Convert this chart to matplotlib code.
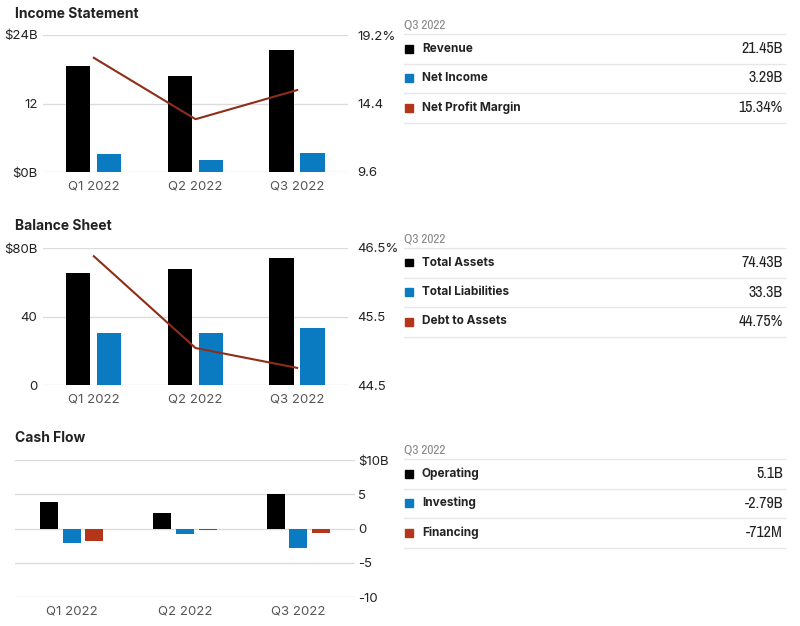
import matplotlib.pyplot as plt
from matplotlib.lines import Line2D
from matplotlib.patches import Rectangle
from matplotlib import font_manager
import numpy as np

## ----- DATA ------ ##

quarters = ["Q1 2022", "Q2 2022", "Q3 2022"]

revenue = [18.55, 16.8, 21.45]
net_income = [3.15, 2.1, 3.29]
net_margin = [17.6, 13.3, 15.34]

total_assets = [65.4, 67.7, 74.43]
total_liabilities = [30.4, 30.4, 33.3]
debt_to_assets = [46.38, 45.04, 44.75]

operating = [3.9, 2.3, 5.1]
investing = [-2.1, -0.8, -2.79]
financing = [-1.8, -0.25, -0.712]

table_period = "Q3 2022"
income_rows = [("Revenue", "21.45B"), ("Net Income", "3.29B"), ("Net Profit Margin", "15.34%")]
balance_rows = [("Total Assets", "74.43B"), ("Total Liabilities", "33.3B"), ("Debt to Assets", "44.75%")]
cash_rows = [("Operating", "5.1B"), ("Investing", "-2.79B"), ("Financing", "-712M")]

## ----- STYLE ------ ##

W, H = 800, 626
BLACK = "#000000"
BLUE = "#0a7bc1"
RED = "#b3361b"
LINE = "#8e2d18"
GRID = "#dcdcdc"
TXT = "#222222"
XTXT = "#555555"
plt.rcParams['font.family'] = ['Inter', 'DejaVu Sans']

# look for an upright, regular narrow face for the table values
NARROW = None
for f in font_manager.fontManager.ttflist:
    if ('Narrow' in f.name or 'Condensed' in f.name) and f.style == 'normal' \
            and f.weight in (400, 'normal', 'regular'):
        NARROW = f.fname
        break


def narrow_props(size):
    if NARROW:
        return font_manager.FontProperties(fname=NARROW, size=size)
    return font_manager.FontProperties(family='DejaVu Sans', stretch='condensed', size=size)


fig = plt.figure(figsize=(W / 100, H / 100), dpi=100)


def px_axes(x0, y0, x1, y1):
    # pixel box (top-left origin) -> figure axes
    return fig.add_axes([x0 / W, 1 - y1 / H, (x1 - x0) / W, (y1 - y0) / H])


def style_axes(ax):
    for s in ax.spines.values():
        s.set_visible(False)
    ax.tick_params(length=0, labelsize=9.5, colors=TXT)


def bar_panel(x0, x1, y0, y1, series, colors, width, offsets, ylim, yticks, ylabels, side):
    ax = px_axes(x0, y0, x1, y1)
    x = np.arange(len(quarters))
    ax.set_xlim(-0.5, len(quarters) - 0.5)
    ax.set_ylim(*ylim)
    ax.set_yticks(yticks)
    ax.set_yticklabels(ylabels)
    ax.yaxis.grid(True, color=GRID, lw=1)
    ax.set_axisbelow(True)
    for vals, c, off in zip(series, colors, offsets):
        ax.bar(x + off, vals, width=width, color=c, zorder=2)
    ax.set_xticks(x)
    ax.set_xticklabels(quarters)
    style_axes(ax)
    ax.tick_params(axis='x', colors=XTXT, labelsize=9.5, pad=6)
    if side == 'right':
        ax.yaxis.tick_right()
        ax.tick_params(axis='y', pad=2)
    else:
        ax.tick_params(axis='y', pad=4)
    return ax


def line_twin(ax, vals, ylim, yticks, ylabels):
    ax2 = ax.twinx()
    ax2.set_ylim(*ylim)
    ax2.set_yticks(yticks)
    ax2.set_yticklabels(ylabels)
    ax2.plot(np.arange(len(quarters)), vals, color=LINE, lw=1.5, zorder=3)
    style_axes(ax2)
    ax2.tick_params(axis='y', pad=7)
    return ax2


def table(top, rows, colors):
    fig.text(404 / W, 1 - (top - 9) / H, table_period, fontproperties=narrow_props(9.5),
             color="#888888", va='center', ha='left')
    lines_y = [top + i * 29.5 for i in range(4)]
    for ly in lines_y:
        fig.add_artist(Line2D([404 / W, 785 / W], [1 - ly / H, 1 - ly / H],
                              color="#e6e6e6", lw=1, transform=fig.transFigure))
    for i, ((name, val), c) in enumerate(zip(rows, colors)):
        cy = top + 14.5 + i * 29.5
        fig.add_artist(Rectangle((405 / W, 1 - (cy + 4) / H), 8 / W, 8 / H,
                                 color=c, transform=fig.transFigure))
        fig.text(422 / W, 1 - cy / H, name, fontsize=8.5, color=TXT, weight='bold',
                 va='center', ha='left')
        fig.text(783 / W, 1 - cy / H, val, fontproperties=narrow_props(11.5), color=TXT,
                 va='center', ha='right')


## ----- INCOME STATEMENT ------ ##

fig.text(15 / W, 1 - 14 / H, "Income Statement", fontsize=10, weight='bold', color=TXT,
         va='center', ha='left')
ax = bar_panel(43, 348, 35, 172, [revenue, net_income], [BLACK, BLUE], 0.24, [-0.155, 0.15],
               (0, 24), [0, 12, 24], ["$0B", "12", "$24B"], 'left')
line_twin(ax, net_margin, (9.6, 19.2), [9.6, 14.4, 19.2], ["9.6", "14.4", "19.2%"])
table(34, income_rows, [BLACK, BLUE, RED])

## ----- BALANCE SHEET ------ ##

fig.text(15 / W, 1 - 226 / H, "Balance Sheet", fontsize=10, weight='bold', color=TXT,
         va='center', ha='left')
ax = bar_panel(43, 348, 248, 385, [total_assets, total_liabilities], [BLACK, BLUE], 0.24,
               [-0.155, 0.15], (0, 80), [0, 40, 80], ["0", "40", "$80B"], 'left')
line_twin(ax, debt_to_assets, (44.5, 46.5), [44.5, 45.5, 46.5], ["44.5", "45.5", "46.5%"])
table(248, balance_rows, [BLACK, BLUE, RED])

## ----- CASH FLOW ------ ##

fig.text(15 / W, 1 - 438 / H, "Cash Flow", fontsize=10, weight='bold', color=TXT,
         va='center', ha='left')
bar_panel(15, 355, 460, 597, [operating, investing, financing], [BLACK, BLUE, RED], 0.16,
          [-0.2, 0.0, 0.2], (-10, 10), [-10, -5, 0, 5, 10], ["-10", "-5", "0", "5", "$10B"],
          'right')
table(459, cash_rows, [BLACK, BLUE, RED])

fig.savefig("out.png", dpi=100, facecolor="white")
